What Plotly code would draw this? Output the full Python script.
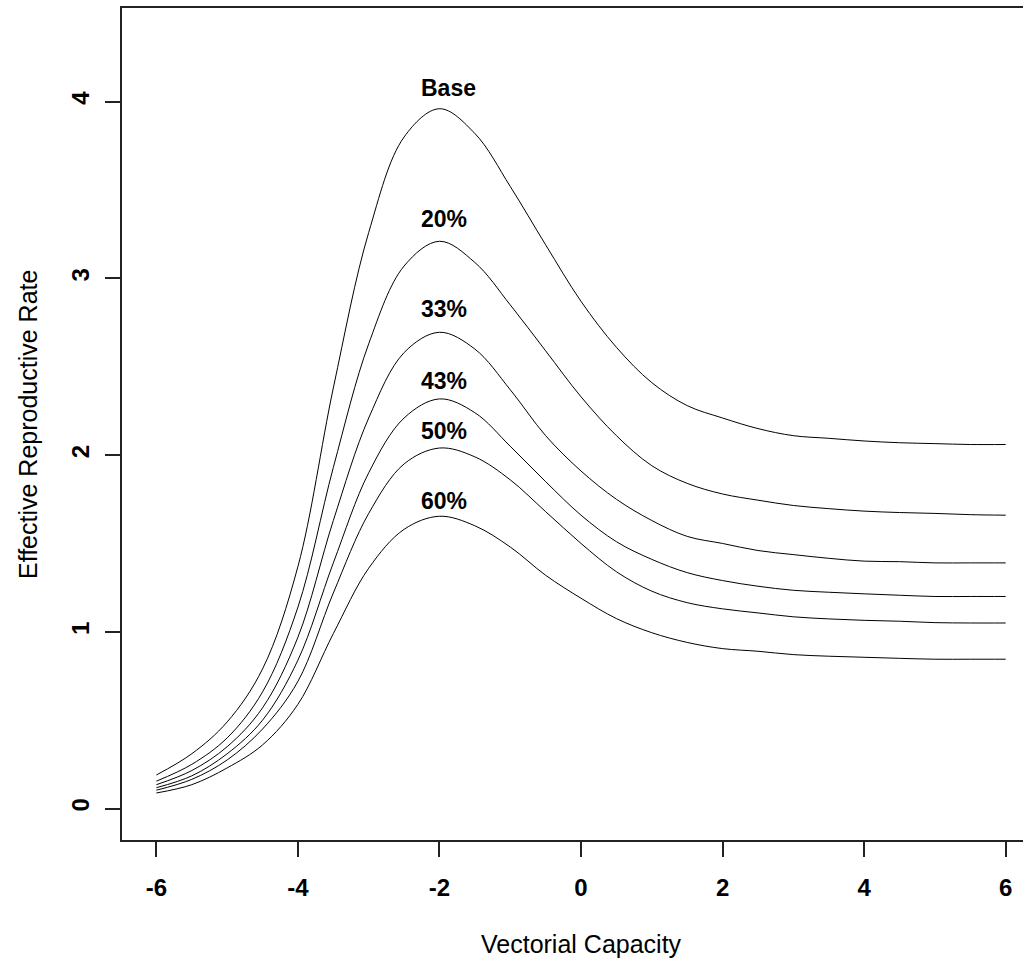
import plotly.graph_objects as go

# Vectorial capacity (x axis)
vc = [-6, -5.5, -5, -4.5, -4, -3.5, -3, -2.5, -2, -1.5, -1, -0.5, 0,
      0.5, 1, 1.5, 2, 2.5, 3, 3.5, 4, 4.5, 5, 5.5, 6]

# Effective reproductive rate for each scenario
r_base = [0.19, 0.31, 0.49, 0.79, 1.37, 2.38, 3.26, 3.80, 3.96, 3.82, 3.52, 3.19, 2.87,
          2.61, 2.41, 2.28, 2.21, 2.15, 2.11, 2.095, 2.08, 2.07, 2.065, 2.06, 2.06]
r_20 = [0.155, 0.25, 0.40, 0.66, 1.14, 1.93, 2.63, 3.07, 3.21, 3.09, 2.85, 2.59, 2.33,
        2.11, 1.94, 1.84, 1.78, 1.745, 1.715, 1.697, 1.683, 1.675, 1.67, 1.663, 1.66]
r_33 = [0.135, 0.215, 0.35, 0.57, 0.97, 1.63, 2.21, 2.58, 2.695, 2.60, 2.37, 2.11, 1.91,
        1.75, 1.63, 1.54, 1.50, 1.46, 1.437, 1.416, 1.40, 1.397, 1.39, 1.39, 1.39]
r_43 = [0.118, 0.185, 0.31, 0.50, 0.84, 1.39, 1.90, 2.21, 2.318, 2.24, 2.05, 1.85, 1.66,
        1.51, 1.41, 1.335, 1.29, 1.258, 1.235, 1.224, 1.215, 1.207, 1.20, 1.20, 1.20]
r_50 = [0.104, 0.165, 0.275, 0.45, 0.72, 1.22, 1.67, 1.95, 2.04, 1.99, 1.86, 1.68, 1.50,
        1.34, 1.23, 1.165, 1.13, 1.107, 1.085, 1.073, 1.065, 1.06, 1.052, 1.05, 1.05]
r_60 = [0.088, 0.135, 0.23, 0.36, 0.59, 0.99, 1.36, 1.58, 1.654, 1.60, 1.48, 1.32, 1.19,
        1.075, 0.995, 0.94, 0.905, 0.89, 0.871, 0.862, 0.856, 0.85, 0.845, 0.845, 0.845]

series = [r_base, r_20, r_33, r_43, r_50, r_60]

# Curve labels and their positions
label_text = ["Base", "20%", "33%", "43%", "50%", "60%"]
label_x = [-1.87, -1.93, -1.93, -1.93, -1.93, -1.93]
label_y = [4.075, 3.338, 2.829, 2.421, 2.139, 1.739]

x_ticks = [-6, -4, -2, 0, 2, 4, 6]
y_ticks = [0, 1, 2, 3, 4]

FONT = "Liberation Sans, Arial, sans-serif"

W, H = 1023, 958
ML, MT, MB, MR = 122, 8, 118, 0
pw = W - ML - MR
ph = H - MT - MB


def px_to_paper_x(px):
    return (px - ML) / pw


def py_to_paper_y(py):
    return (H - MB - py) / ph


fig = go.Figure()
for s in series:
    fig.add_trace(go.Scatter(
        x=vc, y=s, mode="lines",
        line=dict(color="black", width=1, shape="spline", smoothing=1.0),
        showlegend=False, hoverinfo="skip"))

for t, lx, ly in zip(label_text, label_x, label_y):
    fig.add_annotation(x=lx, y=ly, text=t, showarrow=False,
                       font=dict(family=FONT, size=23, color="black", weight="bold"),
                       xanchor="center", yanchor="middle")

# axis titles
fig.add_annotation(x=px_to_paper_x(581), y=py_to_paper_y(944), xref="paper", yref="paper",
                   text="Vectorial Capacity", showarrow=False,
                   xanchor="center", yanchor="middle",
                   font=dict(family=FONT, size=25, color="black"))
fig.add_annotation(x=px_to_paper_x(28), y=py_to_paper_y(425), xref="paper", yref="paper",
                   text="Effective Reproductive Rate", textangle=-90, showarrow=False,
                   xanchor="center", yanchor="middle",
                   font=dict(family=FONT, size=25, color="black"))

fig.update_layout(
    width=W, height=H,
    margin=dict(l=ML, r=MR, t=MT, b=MB, pad=0),
    paper_bgcolor="white", plot_bgcolor="white",
    xaxis=dict(range=[-6.486, 6.245], tickvals=x_ticks, ticktext=[str(v) for v in x_ticks],
               showgrid=False, zeroline=False, showline=True, linecolor="#222222",
               linewidth=2, mirror=True, ticks="outside", ticklen=15, tickwidth=1.5,
               tickcolor="#222222", ticklabelstandoff=10,
               tickfont=dict(family=FONT, size=24, color="black", weight="bold")),
    yaxis=dict(range=[-0.178, 4.53], tickvals=y_ticks, ticktext=[str(v) for v in y_ticks],
               showgrid=False, zeroline=False, showline=True, linecolor="#222222",
               linewidth=2, ticks="outside", ticklen=15, tickwidth=1.5,
               tickcolor="#222222", tickangle=-90, ticklabelstandoff=6,
               tickfont=dict(family=FONT, size=24, color="black", weight="bold")),
)

fig.write_html("out.html", config={"displayModeBar": False})
